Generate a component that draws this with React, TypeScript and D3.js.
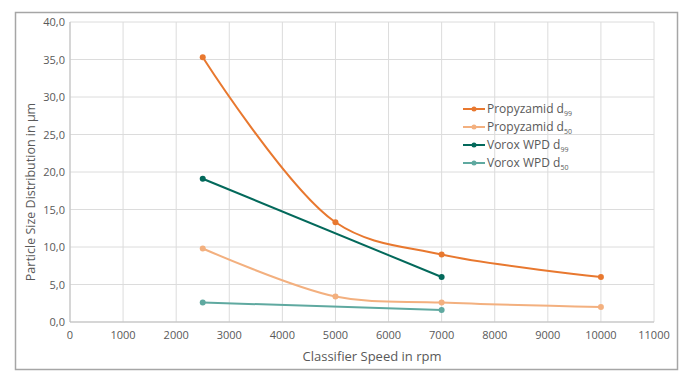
import React from "react";
import * as d3 from "d3";

const xTicks = [0, 1000, 2000, 3000, 4000, 5000, 6000, 7000, 8000, 9000, 10000, 11000];
const yTicks = [0, 5, 10, 15, 20, 25, 30, 35, 40];

const propD99X = [2500, 5000, 7000, 10000];
const propD99Y = [35.3, 13.3, 9.0, 6.0];
const propD50X = [2500, 5000, 7000, 10000];
const propD50Y = [9.8, 3.4, 2.6, 2.0];
const voroxD99X = [2500, 7000];
const voroxD99Y = [19.1, 6.0];
const voroxD50X = [2500, 7000];
const voroxD50Y = [2.6, 1.6];

const seriesNames = ["Propyzamid", "Propyzamid", "Vorox WPD", "Vorox WPD"];
const seriesSubs = ["99", "50", "99", "50"];
const colors = ["#E8782F", "#F3B07F", "#03695B", "#5FA9A0"];

export default function App() {
  const W = 693, H = 386;
  const left = 70, right = 654, top = 22, bottom = 322;
  const x = d3.scaleLinear().domain([0, 11000]).range([left, right]);
  const y = d3.scaleLinear().domain([0, 40]).range([bottom, top]);
  const font = "'Open Sans', sans-serif";
  const series = [
    { xs: propD99X, ys: propD99Y },
    { xs: propD50X, ys: propD50Y },
    { xs: voroxD99X, ys: voroxD99Y },
    { xs: voroxD50X, ys: voroxD50Y },
  ];
  const line = d3
    .line<[number, number]>()
    .x((d) => x(d[0]))
    .y((d) => y(d[1]))
    .curve(d3.curveCatmullRom.alpha(0.5));
  const fmt = (v: number) => v.toFixed(1).replace(".", ",");
  const legX = 463, legY0 = 109, legDy = 18;

  return (
    <svg width={W} height={H} style={{ position: "absolute", left: 0, top: 0 }}>
      <rect x={0} y={0} width={W} height={H} fill="#fff" />
      <rect x={15.5} y={12.5} width={662} height={357} fill="#fff" stroke="#a6a6a6" strokeWidth={1.5} />
      {xTicks.map((t) => (
        <line key={"gx" + t} x1={x(t)} x2={x(t)} y1={top} y2={bottom} stroke="#dcdcdc" strokeWidth={1} />
      ))}
      {yTicks.map((t) => (
        <line key={"gy" + t} x1={left} x2={right} y1={y(t)} y2={y(t)} stroke="#dcdcdc" strokeWidth={1} />
      ))}
      <line x1={left} x2={left} y1={top} y2={bottom} stroke="#bfbfbf" />
      <line x1={left} x2={right} y1={bottom} y2={bottom} stroke="#bfbfbf" />
      {yTicks.map((t) => (
        <text key={"ty" + t} x={left - 5} y={y(t) + 4} textAnchor="end" fontFamily={font} fontSize={11} fill="#595959">
          {fmt(t)}
        </text>
      ))}
      {xTicks.map((t) => (
        <text key={"tx" + t} x={x(t)} y={bottom + 17} textAnchor="middle" fontFamily={font} fontSize={11} fill="#595959">
          {t}
        </text>
      ))}
      <text x={372} y={361} textAnchor="middle" fontFamily={font} fontSize={13} fill="#595959">
        Classifier Speed in rpm
      </text>
      <text
        transform={`translate(35, 192) rotate(-90)`}
        textAnchor="middle"
        fontFamily={font}
        fontSize={12.5}
        fill="#595959"
      >
        Particle Size Distribution in µm
      </text>
      {series.map((s, i) => {
        const pts = s.xs.map((v, j) => [v, s.ys[j]] as [number, number]);
        return (
          <g key={"s" + i}>
            <path d={line(pts) || ""} fill="none" stroke={colors[i]} strokeWidth={2} />
            {pts.map((p, j) => (
              <circle key={j} cx={x(p[0])} cy={y(p[1])} r={3} fill={colors[i]} />
            ))}
          </g>
        );
      })}
      {seriesNames.map((n, i) => {
        const ly = legY0 + i * legDy;
        return (
          <g key={"l" + i}>
            <line x1={legX} x2={legX + 22} y1={ly} y2={ly} stroke={colors[i]} strokeWidth={2} />
            <circle cx={legX + 11} cy={ly} r={2.5} fill={colors[i]} />
            <text x={legX + 24} y={ly + 4} fontFamily={font} fontSize={12} fill="#595959">
              {n} d
              <tspan fontSize={7} dy={3}>{seriesSubs[i]}</tspan>
            </text>
          </g>
        );
      })}
    </svg>
  );
}
